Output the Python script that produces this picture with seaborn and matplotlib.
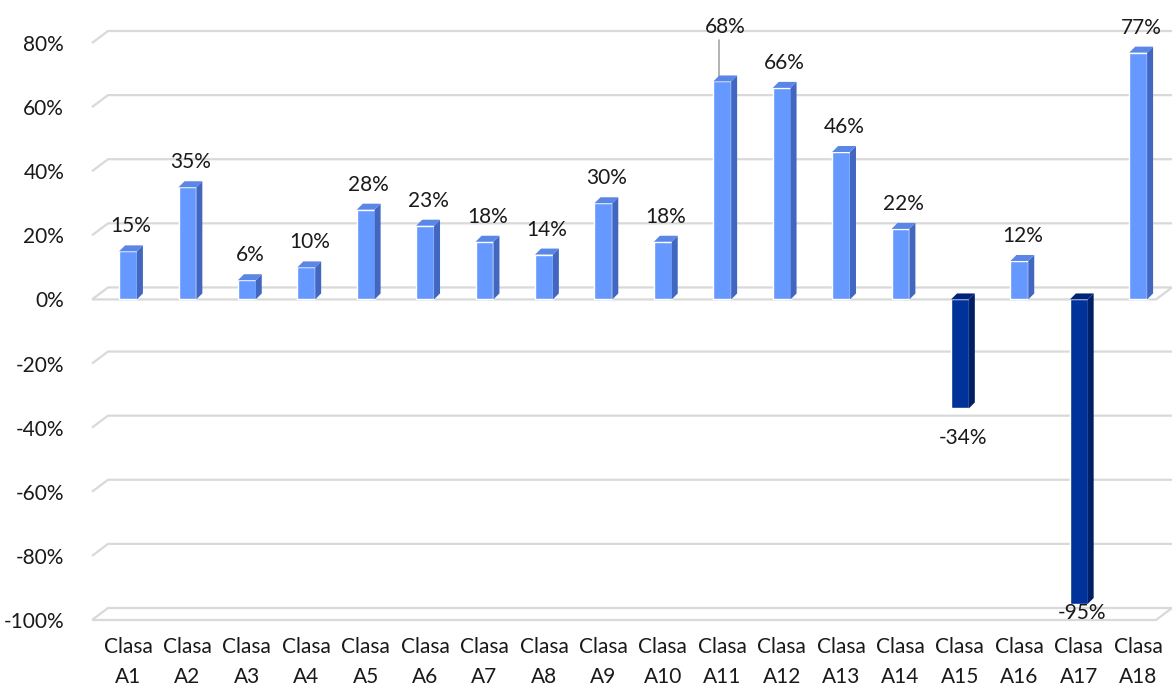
import matplotlib
matplotlib.use("Agg")
import matplotlib.pyplot as plt
from matplotlib.patches import Polygon
from matplotlib.ticker import PercentFormatter
import seaborn as sns

sns.set_style("white")
plt.rcParams["font.family"] = ["Lato", "DejaVu Sans"]
plt.rcParams["axes.unicode_minus"] = False

# data
categories = ["Clasa\nA%d" % i for i in range(1, 19)]
values = [0.15, 0.35, 0.06, 0.10, 0.28, 0.23, 0.18, 0.14, 0.30,
          0.18, 0.68, 0.66, 0.46, 0.22, -0.34, 0.12, -0.95, 0.77]
y_ticks = [0.8, 0.6, 0.4, 0.2, 0.0, -0.2, -0.4, -0.6, -0.8, -1.0]
leader_labels = ["Clasa\nA11"]

signs = ["pos" if v >= 0 else "neg" for v in values]
front = {"pos": "#6699ff", "neg": "#003399"}
side = {"pos": "#4167c0", "neg": "#001f66"}
top = {"pos": "#5a86e6", "neg": "#00237a"}

W, H = 1172, 689
fig = plt.figure(figsize=(W / 100, H / 100), dpi=100)
# front plane of the plot: x 92..1156 px, y 43..620 px
ax = fig.add_axes([92 / W, (H - 620) / H, 1064 / W, 577 / H])

sns.barplot(x=categories, y=values, hue=signs, palette=front, dodge=False,
            width=0.3, legend=False, saturation=1, ax=ax, zorder=3)

ax.set_xlim(-0.606, 17.30)
ax.set_ylim(-1.0, 0.8)
ax.set_yticks(y_ticks)
ax.yaxis.set_major_formatter(PercentFormatter(1.0, decimals=0))
ax.tick_params(axis="y", length=0, pad=20, labelsize=15, labelcolor="#1a1a1a")
ax.tick_params(axis="x", length=0, pad=12, labelsize=15, labelcolor="#1a1a1a")
for lab in ax.get_xticklabels():
    lab.set_linespacing(1.65)
ax.set_xlabel("")
ax.set_ylabel("")
sns.despine(ax=ax, left=True, bottom=True)
ax.grid(False)

# pixel -> data unit conversions for the fake depth
px_x = 17.906 / 1064
px_y = 1.8 / 577
gdx, gdy = 16 * px_x, 12 * px_y   # back wall
bdx, bdy = 6 * px_x, 6 * px_y     # bar depth
x0, x1 = ax.get_xlim()

grid_kw = dict(color="#d9d9d9", lw=1.6, clip_on=False, zorder=1,
               solid_capstyle="butt")
for t in y_ticks:
    ax.plot([x0, x0 + gdx, x1 + gdx], [t, t + gdy, t + gdy], **grid_kw)
for t in [0.0, -1.0]:
    ax.plot([x0, x1, x1 + gdx], [t, t, t + gdy], **grid_kw)

# side and top faces of the bars
for p in ax.patches:
    x, w = p.get_x(), p.get_width()
    h = p.get_height()
    key = "pos" if h >= 0 else "neg"
    lo, hi = min(0, h), max(0, h)
    ax.add_patch(Polygon([(x + w, lo), (x + w, hi), (x + w + bdx, hi + bdy),
                          (x + w + bdx, lo + bdy)], closed=True,
                         facecolor=side[key], lw=0, zorder=3))
    ax.add_patch(Polygon([(x, hi), (x + w, hi), (x + w + bdx, hi + bdy),
                          (x + bdx, hi + bdy)], closed=True,
                         facecolor=top[key], lw=0, zorder=3))

# data labels
for i, (c, v) in enumerate(zip(categories, values)):
    if v >= 0:
        ly = min(v + 0.059, 0.832)
    else:
        ly = max(v - 0.112, -0.997)
    if c in leader_labels:
        ly = 0.832
        ax.plot([i - 0.05, i - 0.05], [v + 0.005, 0.81], color="#a6a6a6",
                lw=1.2, clip_on=False, zorder=2)
    ax.text(i + 0.05, ly, "{:.0%}".format(v), ha="center", va="baseline",
            fontsize=15, color="#1a1a1a", zorder=4, clip_on=False)

fig.savefig("out.png", dpi=100, facecolor="white")
